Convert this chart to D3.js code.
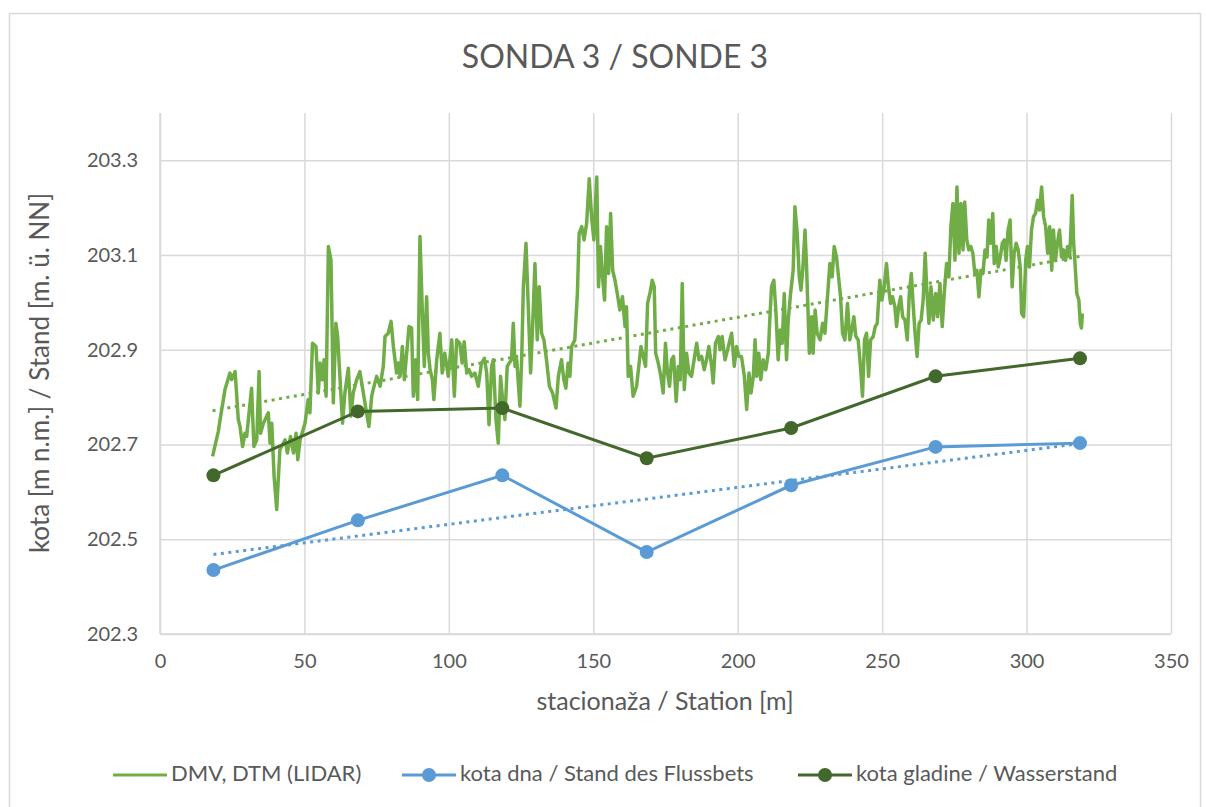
<!DOCTYPE html>
<html>
<head>
<meta charset="utf-8">
<script src="https://cdn.jsdelivr.net/npm/d3@7"></script>
<style>
  body { margin: 0; background: #fff; }
  text { font-family: Lato, "Open Sans", sans-serif; fill: #595959; }
</style>
</head>
<body>
<svg id="chart" width="1206" height="807"></svg>
<script>
// stations of the sounding profiles [m]
const profileStations = [18.5, 68.5, 118.5, 168.5, 218.5, 268.5, 318.5];
// kota dna / Stand des Flussbets
const bedLevel = [202.435, 202.540, 202.635, 202.473, 202.614, 202.695, 202.703];
// kota gladine / Wasserstand
const waterLevel = [202.635, 202.770, 202.777, 202.671, 202.735, 202.844, 202.882];

// DMV, DTM (LIDAR) profile
const dmvStation = [
  18.2, 20.2, 21.0, 22.5, 24.2, 24.8, 26.0, 26.5, 27.1, 27.7, 28.6, 29.4, 30.0, 31.7, 32.5, 33.5, 34.3, 34.8, 35.8, 37.5,
  38.1, 38.7, 39.5, 40.4, 41.5, 43.3, 44.1, 45.2, 46.2, 47.1, 47.7, 48.5, 50.2, 51.3, 51.9, 52.8, 54.0, 54.8, 55.4, 56.2,
  56.8, 57.5, 58.3, 59.2, 60.0, 60.9, 61.5, 63.2, 64.0, 65.2, 66.1, 66.9, 68.1, 69.2, 70.4, 71.5, 72.3, 73.3, 73.8, 75.0,
  76.2, 77.3, 77.9, 79.0, 80.0, 80.8, 81.9, 82.5, 83.1, 83.9, 84.6, 85.4, 86.2, 87.1, 87.7, 88.5, 89.2, 90.0, 90.8, 91.5,
  92.3, 92.9, 93.5, 94.3, 94.8, 95.8, 96.9, 97.7, 98.6, 99.8, 101.0, 101.9, 102.7, 103.8, 104.6, 105.3, 106.2, 107.0, 107.9, 109.0,
  110.2, 111.3, 112.3, 113.1, 113.9, 114.8, 115.4, 116.3, 117.1, 117.9, 118.6, 119.4, 120.2, 120.9, 121.7, 122.3, 122.9, 123.5, 124.6, 125.2,
  125.8, 126.7, 127.5, 128.3, 129.0, 129.8, 130.6, 131.3, 132.1, 132.9, 133.8, 134.8, 135.9, 137.1, 137.9, 139.0, 139.8, 140.5, 141.3, 141.9,
  142.5, 143.6, 144.5, 145.1, 146.0, 146.8, 147.7, 148.6, 149.4, 150.2, 151.2, 151.8, 152.5, 153.2, 153.9, 154.6, 155.3, 156.0, 156.7, 157.5,
  158.3, 159.2, 160.1, 161.0, 161.5, 162.1, 162.9, 163.8, 165.0, 166.5, 167.3, 168.1, 168.8, 169.6, 170.4, 171.1, 171.6, 172.5, 173.4, 174.2,
  175.0, 175.7, 176.4, 177.1, 177.8, 178.7, 179.4, 180.1, 180.8, 181.5, 182.3, 183.1, 184.0, 184.9, 185.8, 186.6, 187.5, 188.4, 189.2, 190.0,
  191.0, 191.5, 192.3, 193.3, 193.9, 194.6, 195.6, 196.5, 197.3, 197.9, 198.8, 199.6, 200.4, 201.3, 202.3, 203.1, 203.9, 204.6, 205.4, 206.0,
  206.6, 207.3, 208.0, 208.8, 209.7, 210.6, 211.1, 211.7, 212.5, 213.2, 214.0, 214.7, 215.4, 216.1, 216.9, 217.5, 218.3, 219.2, 219.8, 220.6,
  221.3, 221.9, 222.5, 223.3, 223.8, 224.8, 225.6, 226.1, 226.8, 227.5, 228.5, 229.4, 230.2, 231.0, 231.9, 232.7, 233.4, 234.2, 234.9, 235.6,
  236.3, 237.1, 238.0, 238.8, 239.5, 240.2, 240.9, 241.7, 242.5, 243.2, 243.9, 244.6, 245.3, 246.0, 246.9, 247.6, 248.3, 249.2, 249.9, 250.7,
  251.5, 252.2, 252.9, 253.6, 254.4, 255.0, 255.7, 256.4, 257.1, 257.9, 258.7, 259.4, 260.1, 260.7, 261.4, 262.1, 262.8, 263.5, 264.2, 264.9,
  265.4, 266.2, 266.9, 267.7, 268.5, 269.2, 270.0, 270.8, 271.5, 272.3, 273.1, 273.8, 274.5, 275.2, 275.9, 276.6, 277.3, 278.0, 278.6, 279.3,
  280.0, 280.7, 281.4, 282.1, 282.8, 283.5, 284.2, 284.9, 285.6, 286.3, 286.9, 287.6, 288.3, 288.8, 289.5, 290.2, 290.9, 291.6, 292.3, 292.9,
  293.6, 294.3, 295.0, 295.7, 296.4, 297.1, 297.8, 298.3, 299.0, 299.7, 300.3, 301.0, 301.7, 302.4, 303.1, 303.8, 304.5, 305.2, 305.9, 306.6,
  307.3, 308.0, 308.7, 309.3, 310.0, 310.7, 311.4, 312.1, 312.8, 313.5, 314.2, 314.9, 315.3, 315.8, 316.3, 316.7, 317.4, 318.1, 318.6, 319.0,
  319.3
];
const dmvLevel = [
  202.675, 202.728, 202.760, 202.816, 202.851, 202.837, 202.854, 202.809, 202.753, 202.738, 202.696, 202.724, 202.717, 202.819, 202.696, 202.710, 202.854, 202.724, 202.745, 202.767,
  202.703, 202.745, 202.633, 202.563, 202.689, 202.710, 202.682, 202.717, 202.682, 202.724, 202.668, 202.710, 202.745, 202.795, 202.767, 202.914, 202.907, 202.809, 202.872, 202.837,
  202.879, 202.802, 203.118, 203.089, 202.788, 202.956, 202.928, 202.745, 202.809, 202.861, 202.760, 202.809, 202.837, 202.854, 202.809, 202.767, 202.738, 202.802, 202.816, 202.844,
  202.823, 202.865, 202.928, 202.935, 202.960, 202.907, 202.851, 202.872, 202.844, 202.907, 202.837, 202.893, 202.949, 202.946, 202.802, 202.879, 202.795, 203.139, 202.984, 202.865,
  203.012, 202.893, 202.858, 202.837, 202.795, 202.879, 202.935, 202.851, 202.893, 202.844, 202.921, 202.802, 202.921, 202.914, 202.872, 202.917, 202.851, 202.858, 202.844, 202.851,
  202.823, 202.872, 202.882, 202.851, 202.742, 202.865, 202.879, 202.753, 202.703, 202.844, 202.795, 202.753, 202.865, 202.872, 202.879, 202.956, 202.865, 202.879, 202.781, 202.879,
  203.033, 203.125, 202.991, 202.851, 202.949, 203.082, 202.921, 203.033, 202.935, 202.921, 202.879, 202.823, 202.809, 202.777, 202.844, 202.879, 202.837, 202.819, 202.872, 202.844,
  202.907, 202.921, 203.019, 203.146, 203.160, 203.132, 203.167, 203.261, 203.181, 203.132, 203.265, 203.033, 203.118, 203.054, 203.005, 203.160, 203.061, 203.188, 203.068, 203.047,
  203.019, 202.984, 203.012, 202.949, 202.991, 202.844, 202.865, 202.802, 202.823, 202.907, 202.886, 202.865, 202.998, 203.019, 203.047, 203.033, 202.893, 202.872, 202.844, 202.809,
  202.914, 202.851, 202.823, 202.879, 202.886, 202.791, 202.865, 202.837, 203.040, 202.816, 202.893, 202.851, 202.844, 202.879, 202.914, 202.879, 202.886, 202.858, 202.879, 202.907,
  202.865, 202.830, 202.914, 202.928, 202.900, 202.928, 202.879, 202.900, 202.921, 202.935, 202.865, 202.907, 202.886, 202.886, 202.844, 202.774, 202.851, 202.809, 202.844, 202.921,
  202.844, 202.893, 202.837, 202.879, 202.858, 202.893, 202.963, 203.033, 203.047, 202.984, 202.879, 202.942, 202.914, 203.019, 202.879, 202.963, 203.019, 203.068, 203.202, 203.146,
  203.054, 203.026, 203.068, 203.153, 203.082, 202.893, 202.970, 202.893, 202.984, 202.935, 202.921, 202.956, 202.935, 203.005, 203.082, 203.054, 203.118, 203.096, 203.054, 203.012,
  202.935, 202.921, 202.998, 202.921, 202.942, 202.970, 202.928, 202.921, 202.865, 202.802, 202.921, 202.935, 202.844, 202.921, 202.928, 202.949, 202.956, 203.047, 203.005, 203.033,
  203.082, 203.033, 202.998, 203.012, 202.991, 202.949, 202.991, 203.012, 202.970, 202.963, 202.921, 203.019, 203.061, 202.998, 202.935, 202.886, 202.956, 202.963, 203.005, 203.104,
  203.033, 202.956, 203.033, 202.963, 203.019, 202.970, 203.040, 202.949, 203.019, 203.082, 203.054, 203.160, 203.209, 203.089, 203.244, 203.104, 203.209, 203.111, 203.212, 203.132,
  203.111, 203.118, 203.104, 203.061, 203.068, 203.012, 203.068, 203.061, 203.111, 203.096, 203.174, 203.125, 203.188, 203.082, 203.118, 203.075, 203.096, 203.125, 203.132, 203.089,
  203.153, 203.174, 203.033, 203.104, 203.125, 203.111, 203.075, 202.977, 202.970, 203.089, 203.118, 203.075, 203.153, 203.181, 203.188, 203.216, 203.195, 203.244, 203.181, 203.160,
  203.104, 203.160, 203.068, 203.153, 203.089, 203.125, 203.153, 203.096, 203.111, 203.089, 203.118, 203.096, 203.146, 203.226, 203.125, 203.089, 203.019, 203.005, 202.956, 202.946,
  202.977
];

const xTicks = [0, 50, 100, 150, 200, 250, 300, 350];
const yTicks = [202.3, 202.5, 202.7, 202.9, 203.1, 203.3];

const chartTitle = 'SONDA 3 / SONDE 3';
const xAxisTitle = 'stacionaža / Station [m]';
const yAxisTitle = 'kota [m n.m.] / Stand [m. ü. NN]';
const seriesNames = ['DMV, DTM (LIDAR)', 'kota dna / Stand des Flussbets', 'kota gladine / Wasserstand'];
const seriesColors = ['#70ad47', '#5b9bd5', '#43682b'];

const plot = { left: 160, right: 1171, top: 113, bottom: 634 };

const svg = d3.select('#chart');

// chart area border
svg.append('rect')
   .attr('x', 9.5).attr('y', 13.5)
   .attr('width', 1191).attr('height', 820)
   .attr('fill', '#fff')
   .attr('stroke', '#d9d9d9')
   .attr('stroke-width', 1.5);

const xScale = d3.scaleLinear().domain([0, 350]).range([plot.left, plot.right]);
const yScale = d3.scaleLinear().domain([202.3, 203.4]).range([plot.bottom, plot.top]);

// gridlines + tick labels
const xAxis = d3.axisBottom(xScale)
   .tickValues(xTicks)
   .tickSizeInner(-(plot.bottom - plot.top))
   .tickSizeOuter(0)
   .tickPadding(20)
   .tickFormat(d3.format('d'));
const yAxis = d3.axisLeft(yScale)
   .tickValues(yTicks)
   .tickSizeInner(-(plot.right - plot.left))
   .tickSizeOuter(0)
   .tickPadding(22)
   .tickFormat(d3.format('.1f'));

const xAxisG = svg.append('g')
   .attr('transform', `translate(0,${plot.bottom})`)
   .call(xAxis);
const yAxisG = svg.append('g')
   .attr('transform', `translate(${plot.left},0)`)
   .call(yAxis);

[xAxisG, yAxisG].forEach(g => {
   g.select('.domain').attr('stroke', '#d9d9d9').attr('stroke-width', 1.5);
   g.selectAll('.tick line').attr('stroke', '#d9d9d9').attr('stroke-width', 1.5);
   g.selectAll('.tick text')
      .attr('fill', '#595959')
      .style('font-size', '20px')
      .style('font-family', 'Lato, sans-serif');
});
yAxisG.select('.domain').attr('d', `M0,${plot.bottom}V${plot.top}`);
xAxisG.select('.domain').attr('d', `M${plot.left},0H${plot.right}`);

// linear trendline (least squares)
function trend(xs, ys) {
   const mx = d3.mean(xs), my = d3.mean(ys);
   let num = 0, den = 0;
   xs.forEach((x, i) => { num += (x - mx) * (ys[i] - my); den += (x - mx) * (x - mx); });
   const slope = num / den;
   const x0 = d3.min(xs), x1 = d3.max(xs);
   return [[x0, my + slope * (x0 - mx)], [x1, my + slope * (x1 - mx)]];
}

const line = d3.line()
   .x(d => xScale(d[0]))
   .y(d => yScale(d[1]));

const dmv = dmvStation.map((s, i) => [s, dmvLevel[i]]);
const bed = profileStations.map((s, i) => [s, bedLevel[i]]);
const water = profileStations.map((s, i) => [s, waterLevel[i]]);

svg.append('path')
   .datum(dmv)
   .attr('d', line)
   .attr('fill', 'none')
   .attr('stroke', seriesColors[0])
   .attr('stroke-width', 3.5)
   .attr('stroke-linejoin', 'round');

svg.append('path')
   .datum(trend(dmvStation, dmvLevel))
   .attr('d', line)
   .attr('stroke', seriesColors[0])
   .attr('stroke-width', 3)
   .attr('stroke-dasharray', '3 4.5');

svg.append('path')
   .datum(trend(profileStations, bedLevel))
   .attr('d', line)
   .attr('stroke', seriesColors[1])
   .attr('stroke-width', 3)
   .attr('stroke-dasharray', '3 4.5');

[[bed, seriesColors[1]], [water, seriesColors[2]]].forEach(([data, color]) => {
   svg.append('path')
      .datum(data)
      .attr('d', line)
      .attr('fill', 'none')
      .attr('stroke', color)
      .attr('stroke-width', 3);
   svg.append('g')
      .selectAll('circle')
      .data(data)
      .join('circle')
      .attr('cx', d => xScale(d[0]))
      .attr('cy', d => yScale(d[1]))
      .attr('r', 7)
      .attr('fill', color);
});

// titles
svg.append('text')
   .attr('x', 615).attr('y', 60)
   .attr('text-anchor', 'middle')
   .attr('dominant-baseline', 'middle')
   .style('font-size', '32px')
   .text(chartTitle);

svg.append('text')
   .attr('x', 665).attr('y', 704)
   .attr('text-anchor', 'middle')
   .attr('dominant-baseline', 'middle')
   .style('font-size', '25px')
   .text(xAxisTitle);

svg.append('text')
   .attr('transform', 'translate(42,373) rotate(-90)')
   .attr('text-anchor', 'middle')
   .attr('dominant-baseline', 'middle')
   .style('font-size', '26px')
   .text(yAxisTitle);

// legend
const legendX = [113, 402, 798];
const legend = svg.append('g');
seriesNames.forEach((name, i) => {
   const g = legend.append('g').attr('transform', `translate(${legendX[i]},775)`);
   g.append('line')
      .attr('x1', 0).attr('x2', 54)
      .attr('stroke', seriesColors[i])
      .attr('stroke-width', 3);
   if (i > 0) {
      g.append('circle').attr('cx', 27).attr('r', 7).attr('fill', seriesColors[i]);
   }
   g.append('text')
      .attr('x', 58)
      .attr('dominant-baseline', 'middle')
      .style('font-size', '22px')
      .text(name);
});
</script>
</body>
</html>
